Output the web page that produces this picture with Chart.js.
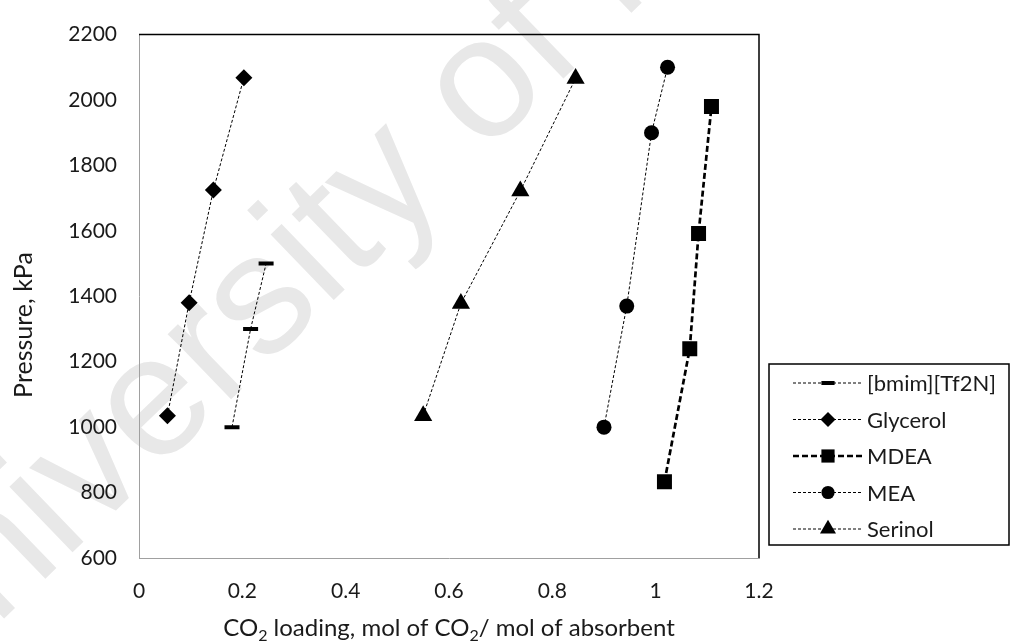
<!DOCTYPE html>
<html>
<head>
<meta charset="utf-8">
<script src="https://cdn.jsdelivr.net/npm/chart.js@4.4.1/dist/chart.umd.min.js"></script>
<style>
    html, body { margin: 0; padding: 0; background: #fff; }
</style>
</head>
<body>
<canvas id="myChart" width="1013" height="641"></canvas>
<script>
// CO2 loading (mol CO2 / mol absorbent) vs pressure (kPa) for each absorbent
const loadingBmim = [0.180, 0.216, 0.246];
const pressureBmim = [1000, 1300, 1500];

const loadingGlycerol = [0.055, 0.097, 0.144, 0.203];
const pressureGlycerol = [1035, 1380, 1725, 2068];

const loadingMdea = [1.017, 1.066, 1.083, 1.108];
const pressureMdea = [833, 1240, 1592, 1980];

const loadingMea = [0.900, 0.944, 0.992, 1.023];
const pressureMea = [1000, 1370, 1900, 2100];

const loadingSerinol = [0.550, 0.623, 0.738, 0.845];
const pressureSerinol = [1035, 1378, 1722, 2066];

const seriesNames = ['[bmim][Tf2N]', 'Glycerol', 'MDEA', 'MEA', 'Serinol'];

const loadingTicks = [0, 0.2, 0.4, 0.6, 0.8, 1, 1.2];
const pressureTicks = [600, 800, 1000, 1200, 1400, 1600, 1800, 2000, 2200];

const watermarkText = 'University of Malaya';

const labelFont = 'Lato';
const textColor = '#1a1a1a';

function toPoints(xs, ys) {
    return xs.map((x, i) => ({ x: x, y: ys[i] }));
}

const thinDash = [3, 2];

function series(name, xs, ys, style, radius, extra) {
    return Object.assign({
        label: name,
        data: toPoints(xs, ys),
        showLine: true,
        borderColor: '#000',
        borderWidth: 1,
        borderDash: thinDash,
        pointStyle: style,
        pointRadius: radius,
        pointHoverRadius: radius,
        pointBackgroundColor: '#000',
        pointBorderColor: '#000',
        pointBorderWidth: 0,
    }, extra || {});
}

const datasets = [
    series(seriesNames[0], loadingBmim, pressureBmim, 'line', 7.5, { pointBorderWidth: 4 }),
    series(seriesNames[1], loadingGlycerol, pressureGlycerol, 'rectRot', 8.5),
    series(seriesNames[2], loadingMdea, pressureMdea, 'rect', 10.6, { borderWidth: 2.7, borderDash: [6, 3] }),
    series(seriesNames[3], loadingMea, pressureMea, 'circle', 7.5),
    series(seriesNames[4], loadingSerinol, pressureSerinol, 'triangle', 10.5),
];

// white page plus the faint diagonal text behind everything
const backdrop = {
    id: 'backdrop',
    beforeDraw(chart) {
        const ctx = chart.ctx;
        ctx.save();
        ctx.fillStyle = '#fff';
        ctx.fillRect(0, 0, chart.width, chart.height);
        const size = 172;
        ctx.font = size + 'px "Liberation Sans"';
        ctx.fillStyle = '#e8e8e8';
        ctx.textBaseline = 'alphabetic';
        ctx.translate(487, 90);
        ctx.rotate(-44 * Math.PI / 180);
        const before = ctx.measureText('University ').width;
        const o = ctx.measureText('o').width;
        ctx.fillText(watermarkText, -(before + o / 2), 0.26 * size);
        ctx.restore();
    }
};

// black top / right edge of the plot area
const plotFrame = {
    id: 'plotFrame',
    beforeDatasetsDraw(chart) {
        const { ctx, chartArea: a } = chart;
        ctx.save();
        ctx.strokeStyle = '#000';
        ctx.lineWidth = 1.5;
        ctx.beginPath();
        ctx.moveTo(a.left, a.top);
        ctx.lineTo(a.right, a.top);
        ctx.lineTo(a.right, a.bottom);
        ctx.stroke();
        ctx.restore();
    }
};

// text runs laid out left to right, subscript pieces smaller and lowered
function drawRuns(ctx, runs, size, x, y) {
    const subSize = Math.round(size * 0.65);
    let total = 0;
    runs.forEach(r => {
        ctx.font = (r.sub ? subSize : size) + 'px ' + labelFont;
        total += ctx.measureText(r.text).width;
    });
    let cx = x - total / 2;
    runs.forEach(r => {
        ctx.font = (r.sub ? subSize : size) + 'px ' + labelFont;
        ctx.fillText(r.text, cx, r.sub ? y + size * 0.22 : y);
        cx += ctx.measureText(r.text).width;
    });
}

const axisTitles = {
    id: 'axisTitles',
    afterDraw(chart) {
        const ctx = chart.ctx;
        const a = chart.chartArea;
        ctx.save();
        ctx.fillStyle = textColor;
        ctx.textBaseline = 'alphabetic';
        ctx.textAlign = 'left';
        drawRuns(ctx, [
            { text: 'CO' }, { text: '2', sub: true },
            { text: ' loading, mol of CO' }, { text: '2', sub: true },
            { text: '/ mol of absorbent' }
        ], 24, (a.left + a.right) / 2, 636);

        ctx.translate(24, 325);
        ctx.rotate(-Math.PI / 2);
        ctx.textAlign = 'center';
        ctx.textBaseline = 'middle';
        ctx.font = '25px ' + labelFont;
        ctx.fillText('Pressure, kPa', 0, 0);
        ctx.restore();
    }
};

// boxed legend with a line sample through each marker
const sideLegend = {
    id: 'sideLegend',
    afterDraw(chart) {
        const ctx = chart.ctx;
        ctx.save();
        ctx.strokeStyle = '#000';
        ctx.lineWidth = 1.5;
        ctx.strokeRect(769, 364, 240, 181);
        chart.data.datasets.forEach((ds, i) => {
            const y = 383 + i * 36.5;
            ctx.strokeStyle = '#000';
            ctx.setLineDash(ds.borderDash);
            ctx.lineWidth = ds.borderWidth;
            ctx.beginPath();
            ctx.moveTo(793, y);
            ctx.lineTo(863, y);
            ctx.stroke();
            ctx.setLineDash([]);
            ctx.fillStyle = '#000';
            ctx.lineWidth = ds.pointBorderWidth;
            Chart.helpers.drawPoint(ctx, {
                pointStyle: ds.pointStyle,
                radius: ds.pointRadius * 0.88,
                rotation: 0,
                borderWidth: ds.pointBorderWidth
            }, 828, y);
            ctx.fillStyle = textColor;
            ctx.font = '22px ' + labelFont;
            ctx.textBaseline = 'middle';
            ctx.fillText(ds.label, 867, y + 1);
        });
        ctx.restore();
    }
};

const chartCanvasElement = document.getElementById('myChart');

new Chart(chartCanvasElement, {
    type: 'scatter',
    data: { datasets: datasets },
    options: {
        responsive: false,
        animation: false,
        devicePixelRatio: 1,
        layout: { padding: { left: 0, right: 254, top: 26, bottom: 0 } },
        plugins: {
            legend: { display: false },
            tooltip: { enabled: false }
        },
        scales: {
            x: {
                type: 'linear',
                min: 0,
                max: 1.2,
                afterBuildTicks: (scale) => { scale.ticks = loadingTicks.map(v => ({ value: v })); },
                afterFit: (scale) => { scale.height = 83; },
                grid: { display: false, drawTicks: false },
                border: { display: true, color: '#a0a0a0', width: 1 },
                ticks: {
                    padding: 21,
                    color: textColor,
                    font: { family: labelFont, size: 21 },
                    maxRotation: 0,
                    callback: (v) => String(parseFloat(Number(v).toFixed(2)))
                }
            },
            y: {
                type: 'linear',
                min: 600,
                max: 2200,
                afterBuildTicks: (scale) => { scale.ticks = pressureTicks.map(v => ({ value: v })); },
                afterFit: (scale) => { scale.width = 139; },
                grid: { display: false, drawTicks: false },
                border: { display: true, color: '#a0a0a0', width: 1 },
                ticks: {
                    padding: 22,
                    color: textColor,
                    font: { family: labelFont, size: 21 },
                    callback: (v) => String(v)
                }
            }
        }
    },
    plugins: [backdrop, plotFrame, axisTitles, sideLegend]
});
</script>
</body>
</html>
